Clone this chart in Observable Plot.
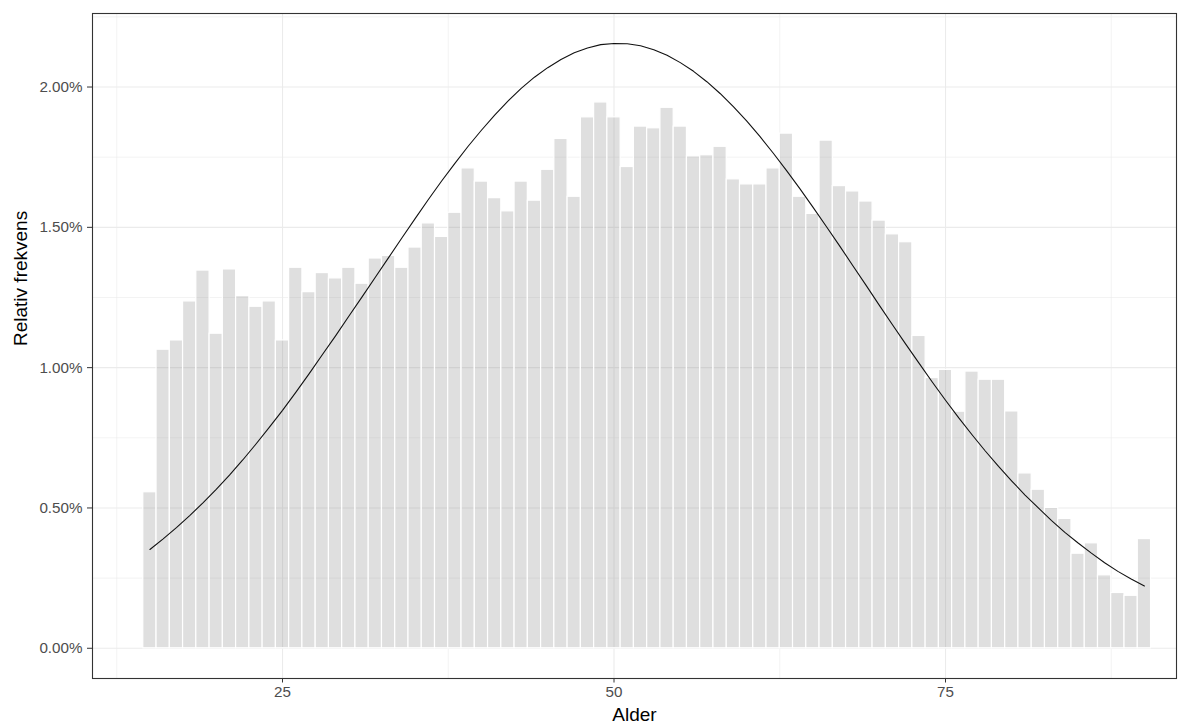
<!DOCTYPE html>
<html>
<head>
<meta charset="utf-8">
<script src="https://cdn.jsdelivr.net/npm/d3@7"></script>
<script src="https://cdn.jsdelivr.net/npm/@observablehq/plot@0.6"></script>
<style>
  html, body { margin: 0; padding: 0; background: #ffffff; }
  #chart { width: 1189px; height: 726px; }
</style>
</head>
<body>
<div id="chart"></div>
<script>
// Age in years, one histogram bin per year
const ages = d3.range(15, 91);

// Relative frequency per age, in percent
const relFreq = [
  0.556, 1.064, 1.097, 1.236, 1.346, 1.121, 1.350, 1.255, 1.217, 1.236,
  1.097, 1.356, 1.269, 1.337, 1.318, 1.356, 1.299, 1.389, 1.398, 1.356,
  1.428, 1.514, 1.466, 1.552, 1.710, 1.663, 1.604, 1.557, 1.663, 1.595,
  1.705, 1.815, 1.609, 1.892, 1.945, 1.892, 1.715, 1.859, 1.853, 1.926,
  1.859, 1.753, 1.757, 1.787, 1.671, 1.653, 1.653, 1.710, 1.834, 1.609,
  1.548, 1.809, 1.647, 1.628, 1.592, 1.524, 1.475, 1.447, 1.113, 0.963,
  0.992, 0.843, 0.986, 0.957, 0.957, 0.844, 0.623, 0.565, 0.500, 0.461,
  0.337, 0.374, 0.260, 0.197, 0.187, 0.389
];

// Normal reference curve, in percent, at each age
const normalCurve = [
  0.352, 0.390, 0.430, 0.473, 0.518, 0.566, 0.617, 0.671, 0.728, 0.787,
  0.848, 0.912, 0.978, 1.046, 1.113, 1.183, 1.252, 1.322, 1.392, 1.462,
  1.531, 1.599, 1.665, 1.728, 1.789, 1.846, 1.900, 1.950, 1.995, 2.035,
  2.069, 2.098, 2.122, 2.139, 2.151, 2.155, 2.154, 2.147, 2.133, 2.113,
  2.087, 2.056, 2.019, 1.977, 1.930, 1.879, 1.824, 1.765, 1.703, 1.639,
  1.572, 1.504, 1.435, 1.364, 1.294, 1.223, 1.153, 1.084, 1.016, 0.949,
  0.884, 0.821, 0.761, 0.703, 0.648, 0.596, 0.546, 0.500, 0.455, 0.413,
  0.375, 0.339, 0.305, 0.274, 0.247, 0.222
];

const xMajor = [25, 50, 75];
const xMinor = [12.5, 37.5, 62.5, 87.5];
const yMajor = [0, 0.5, 1, 1.5, 2];
const yMinor = [0.25, 0.75, 1.25, 1.75, 2.25];

const bins = ages.map((a, i) => ({age: a, x1: a - 0.5, x2: a + 0.5, freq: relFreq[i]}));
const curve = ages.map((a, i) => ({age: a, dens: normalCurve[i]}));

const grid = "#ebebeb";

const chart = Plot.plot({
  width: 1189,
  height: 726,
  marginLeft: 92,
  marginRight: 13,
  marginTop: 13,
  marginBottom: 48,
  style: {fontFamily: "'Liberation Sans', Arial, sans-serif", background: "#ffffff"},
  x: {domain: [10.67, 92.42]},
  y: {domain: [-0.1077, 2.262]},
  marks: [
    // panel grid
    Plot.gridY(yMinor, {stroke: grid, strokeOpacity: 1, strokeWidth: 0.6}),
    Plot.gridX(xMinor, {stroke: grid, strokeOpacity: 1, strokeWidth: 0.6}),
    Plot.gridY(yMajor, {stroke: grid, strokeOpacity: 1, strokeWidth: 1.1}),
    Plot.gridX(xMajor, {stroke: grid, strokeOpacity: 1, strokeWidth: 1.1}),
    // histogram bars
    Plot.rectY(bins, {
      x1: "x1", x2: "x2", y1: 0, y2: "freq",
      fill: "#7f7f7f", fillOpacity: 0.25,
      stroke: "#ffffff", strokeWidth: 1.2
    }),
    // normal curve
    Plot.line(curve, {x: "age", y: "dens", stroke: "#111111", strokeWidth: 1.1}),
    // axes
    Plot.axisX(xMajor, {
      tickSize: 4.5, tickPadding: 3, fontSize: 15.2,
      stroke: "#333333", fill: "#4d4d4d", label: null
    }),
    Plot.axisY(yMajor, {
      tickSize: 5, tickPadding: 5, fontSize: 15.2,
      tickFormat: d => d.toFixed(2) + "%",
      stroke: "#333333", fill: "#4d4d4d", label: null
    }),
    // axis titles
    Plot.text(["Alder"], {frameAnchor: "bottom", dy: 42, fontSize: 19, fill: "#000000"}),
    Plot.text(["Relativ frekvens"], {frameAnchor: "left", dx: -72, rotate: -90, fontSize: 19, fill: "#000000"}),
    // panel border
    Plot.frame({stroke: "#333333", strokeWidth: 1.1})
  ]
});

document.getElementById("chart").appendChild(chart);
</script>
</body>
</html>
